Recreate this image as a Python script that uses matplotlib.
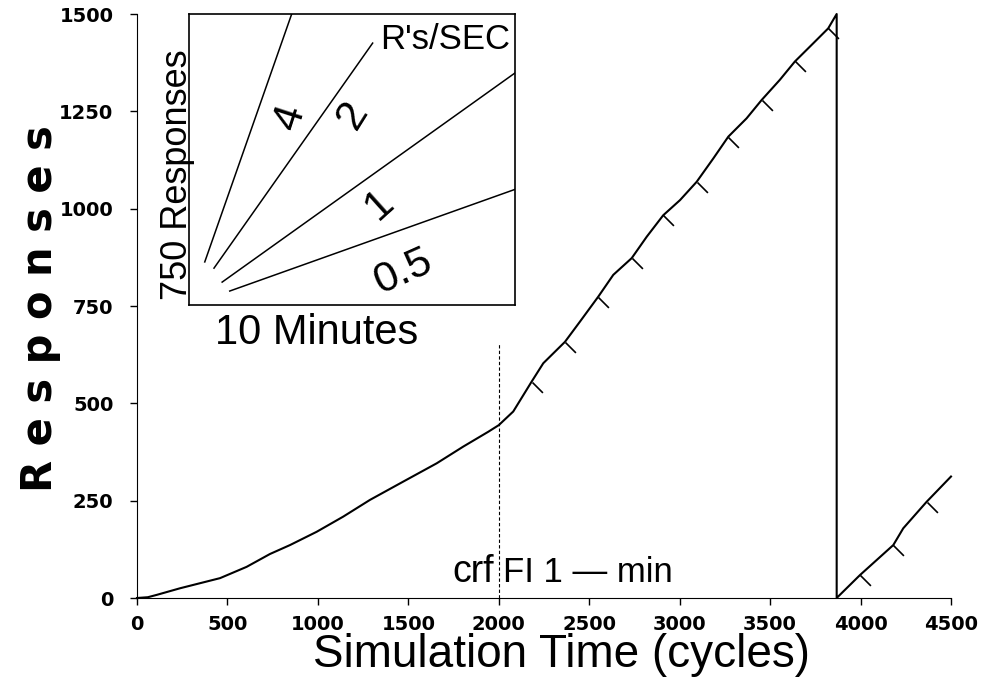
import matplotlib
matplotlib.use("Agg")
import matplotlib.pyplot as plt

# cumulative record (cycles, responses)
crf_x = [0, 60, 109, 238, 459, 606, 735, 846, 993, 1140, 1288, 1472, 1657, 1804, 1942, 2000]
crf_y = [0, 2, 8, 25, 51, 80, 113, 136, 170, 209, 252, 299, 346, 389, 427, 444]

fi_x = [2000, 2080, 2182, 2246, 2366, 2449, 2550, 2633, 2735, 2818, 2909, 3002, 3094,
        3186, 3269, 3370, 3453, 3554, 3637, 3739, 3821, 3868, 3868]
fi_y = [444, 479, 556, 603, 658, 710, 774, 830, 873, 928, 983, 1022, 1069,
        1129, 1185, 1232, 1279, 1331, 1378, 1425, 1463, 1500, 0]

reset_x = [3868, 3997, 4181, 4236, 4365, 4500]
reset_y = [0, 59, 136, 179, 247, 312]

# reinforcement marks
rf_x = [2182, 2366, 2550, 2735, 2909, 3094, 3269, 3453, 3637, 3821, 3997, 4181, 4365]
rf_y = [556, 658, 774, 873, 983, 1069, 1185, 1279, 1378, 1463, 59, 136, 247]

phase_change = 2000
phase_top = 655

x_ticks = [0, 500, 1000, 1500, 2000, 2500, 3000, 3500, 4000, 4500]
y_ticks = [0, 250, 500, 750, 1000, 1250, 1500]

# inset: rate lines, seconds vs responses
rate_labels = ["4", "2", "1", "0.5"]
rate_x0 = [29, 46, 61, 75]
rate_y0 = [111, 95, 59, 36]
rate_x1 = [189, 338, 600, 600]
rate_y1 = [750, 675, 598, 298]
label_x = [186, 302, 351, 394]
label_y = [484, 490, 258, 85]
label_rot = [72, 58, 42, 24]

sans = ["Liberation Sans", "DejaVu Sans"]

fig = plt.figure(figsize=(9.91, 6.87), dpi=100)
ax = fig.add_axes([137 / 991, 89 / 687, 814 / 991, 584 / 687])

ax.plot(crf_x + fi_x[1:] + reset_x[1:], crf_y + fi_y[1:] + reset_y[1:],
        color="black", lw=1.5, clip_on=False, zorder=3)
ax.plot(rf_x, rf_y, ls="none", marker=[(0, 0), (1, -1)], ms=15, mew=1.2,
        mec="black", clip_on=False, zorder=3)
ax.plot([phase_change, phase_change], [0, phase_top], color="black", lw=0.8,
        ls=(0, (3, 2)))

ax.text(phase_change - 25, 41, "crf", ha="right", va="baseline", fontsize=27, family=sans)
ax.text(phase_change + 25, 41, "FI 1 \u2014 min", ha="left", va="baseline", fontsize=25,
        family=sans)

ax.set_xlim(0, 4500)
ax.set_ylim(0, 1500)
ax.set_xticks(x_ticks)
ax.set_yticks(y_ticks)
ax.spines["top"].set_visible(False)
ax.spines["right"].set_visible(False)
ax.tick_params(direction="out", length=5, width=1)
ax.tick_params(axis="y", pad=12)
ax.tick_params(axis="x", pad=7)
for lab in ax.get_xticklabels() + ax.get_yticklabels():
    lab.set_fontweight("bold")
    lab.set_fontsize(14)

ax.set_xlabel("Simulation Time (cycles)", fontsize=33, family=sans, va="top")
ax.xaxis.set_label_coords(0.522, -0.06)
ax.set_ylabel("R e s p o n s e s", fontsize=30, fontweight="bold", va="baseline")
ax.yaxis.set_label_coords(-0.105, 0.495)

# rate legend inset
ins = fig.add_axes([189 / 991, 382 / 687, 326 / 991, 291 / 687])
for x0, y0, x1, y1 in zip(rate_x0, rate_y0, rate_x1, rate_y1):
    ins.plot([x0, x1], [y0, y1], color="black", lw=1.1)
for t, lx, ly, r in zip(rate_labels, label_x, label_y, label_rot):
    ins.text(lx, ly, t, rotation=r, ha="center", va="center", fontsize=31, family=sans,
             rotation_mode="anchor")
ins.text(471, 683, "R's/SEC", ha="center", va="center", fontsize=25, family=sans)
ins.set_xlim(0, 600)
ins.set_ylim(0, 750)
ins.set_xticks([])
ins.set_yticks([])
for sp in ins.spines.values():
    sp.set_linewidth(1.2)
ins.set_xlabel("10 Minutes", fontsize=30, family=sans, va="top")
ins.xaxis.set_label_coords(0.393, -0.027)
ins.set_ylabel("750 Responses", fontsize=26, family=sans, va="baseline")
ins.yaxis.set_label_coords(-0.006, 0.447)

fig.savefig("out.png", dpi=100)
